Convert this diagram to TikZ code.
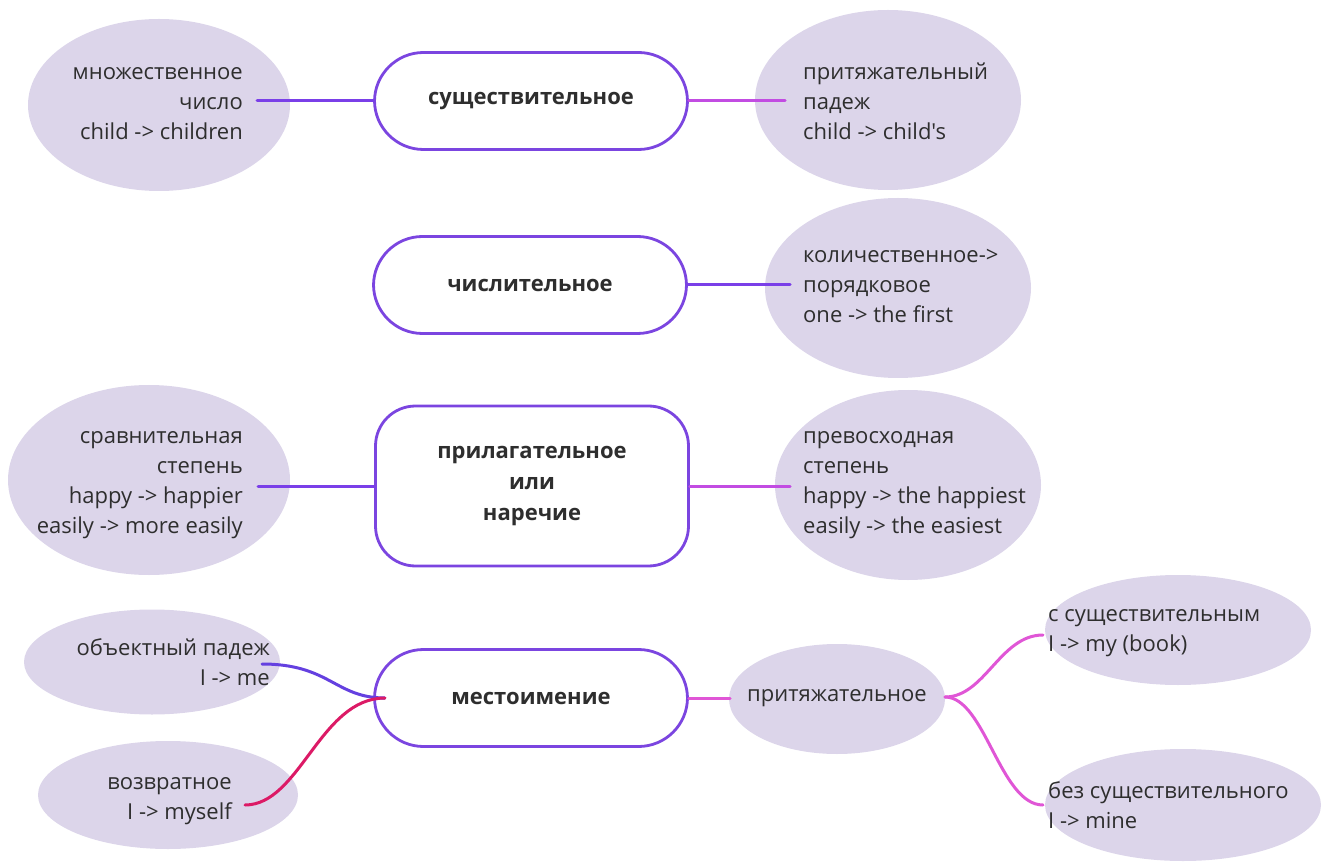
\documentclass[tikz,border=0pt]{standalone}
\usepackage{fontspec}
\setmainfont{Open Sans}[Ligatures=TeXOff]
\usetikzlibrary{shapes.geometric}
\definecolor{ellfill}{HTML}{DCD5EA}
\definecolor{pillline}{HTML}{7B45E0}
\definecolor{txt}{HTML}{2E2E2E}
\definecolor{cpurple}{HTML}{7A3FE8}
\definecolor{cmagenta}{HTML}{C24CE2}
\definecolor{cblue}{HTML}{6440E0}
\definecolor{ccrimson}{HTML}{DC1A66}
\definecolor{cpink}{HTML}{E056D6}
\tikzset{
  ell/.style={ellipse, fill=ellfill, draw=none, inner sep=0pt},
  etext/.style={text=txt, font=\fontsize{22}{30}\selectfont, inner sep=0pt},
  pill/.style={draw=pillline, line width=2.8pt, fill=white, rounded corners=49pt,
     minimum width=313pt, minimum height=97pt, text=txt,
     font=\fontsize{22}{31}\selectfont\bfseries, align=center},
  conn/.style={line width=3pt, line cap=round},
}
\begin{document}
\begin{tikzpicture}[x=1pt,y=-1pt]
\useasboundingbox (0,0) rectangle (1325,866);
% ellipses
\node[ell, minimum width=262pt, minimum height=172pt] (Ae) at (159,105) {};
\node[ell, minimum width=266pt, minimum height=180pt] (Be) at (888,100) {};
\node[ell, minimum width=266pt, minimum height=180pt] (Ce) at (898,288) {};
\node[ell, minimum width=282pt, minimum height=190pt] (De) at (149,480) {};
\node[ell, minimum width=266pt, minimum height=190pt] (Ee) at (908,485) {};
\node[ell, minimum width=256pt, minimum height=105pt] (Fe) at (152,662) {};
\node[ell, minimum width=260pt, minimum height=108pt] (Ge) at (168,795) {};
\node[ell, minimum width=216pt, minimum height=110pt] (He) at (837,699) {};
\node[ell, minimum width=266pt, minimum height=110pt] (Ie) at (1178,630) {};
\node[ell, minimum width=276pt, minimum height=112pt] (Je) at (1183,805) {};
% texts
\node[etext, align=right, anchor=east] (A) at (243,104) {множественное\\число\\child -> children};
\node[etext, align=left, anchor=west] (B) at (803,101) {притяжательный\\падеж\\child -> child's};
\node[etext, align=left, anchor=west] (C) at (803,286) {количественное->\\порядковое\\one -> the first};
\node[etext, align=right, anchor=east] (D) at (243,485) {сравнительная\\степень\\happy -> happier\\easily -> more easily};
\node[etext, align=left, anchor=west] (E) at (803,485) {превосходная\\степень\\happy -> the happiest\\easily -> the easiest};
\node[etext, align=right, anchor=east] (F) at (270,662) {объектный падеж\\I -> me};
\node[etext, align=right, anchor=east] (G) at (232,801) {возвратное\\I -> myself};
\node[etext] (H) at (837,698) {притяжательное};
\node[etext, align=left, anchor=west] (I) at (1048,633) {с существительным\\I -> my (book)};
\node[etext, align=left, anchor=west] (J) at (1048,805) {без существительного\\I -> mine};
% pills
\node[pill] (P1) at (531,101) {существительное};
\node[pill] (P2) at (530,285) {числительное};
\node[pill, rounded corners=40pt, minimum height=160pt] (P3) at (532,486) {прилагательное\\или\\наречие};
\node[pill] (P4) at (531,698) {местоимение};
% connector ends
\coordinate (Ac) at (257,101);
\coordinate (Bc) at (785,101);
\coordinate (Cc) at (790,285);
\coordinate (Dc) at (258,486);
\coordinate (Ec) at (790,486);
\coordinate (Fc) at (262,664);
\coordinate (Gc) at (245,805);
\coordinate (Hl) at (730,698);
\coordinate (Hr) at (945,697);
\coordinate (Ic) at (1043,635);
\coordinate (Jc) at (1043,805);
\coordinate (P4j) at (385,698);
% connectors
\draw[conn, cpurple] (Ac) -- (P1.west);
\draw[conn, cmagenta] (P1.east) -- (Bc);
\draw[conn, cpurple] (P2.east) -- (Cc);
\draw[conn, cpurple] (Dc) -- (P3.west);
\draw[conn, cmagenta] (P3.east) -- (Ec);
\draw[conn, cblue] (Fc) .. controls (330,664) and (335,698) .. (P4j) -- (P4.west);
\draw[conn, ccrimson] (Gc) .. controls (300,805) and (320,698) .. (P4j);
\draw[conn, cpink] (P4.east) -- (Hl);
\draw[conn, cpink] (Hr) .. controls (985,697) and (1000,635) .. (Ic);
\draw[conn, cpink] (Hr) .. controls (985,697) and (1000,805) .. (Jc);
\end{tikzpicture}
\end{document}
